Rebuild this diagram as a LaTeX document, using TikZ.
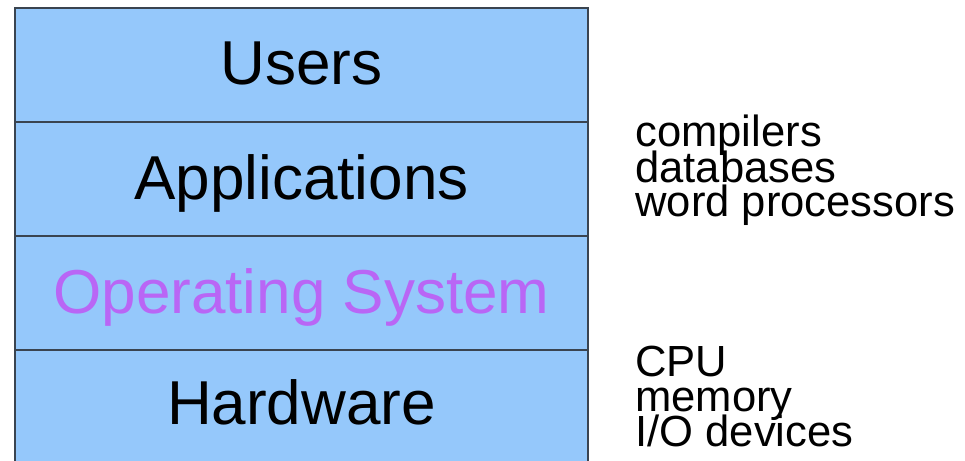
\documentclass[tikz,border=0pt]{standalone}
\usepackage{fontspec}
\setmainfont{Liberation Sans}
\definecolor{layerblue}{HTML}{95C8FB}
\definecolor{ospurple}{HTML}{B966F5}
\definecolor{layerline}{HTML}{3A4450}
\begin{document}
\begin{tikzpicture}
[layer/.style={font=\fontsize{35.3}{40}\selectfont, anchor=base},
 side/.style={font=\fontsize{24.8}{28}\selectfont, anchor=base west, inner sep=0pt}]

\clip (0,0) rectangle (19.3,9.2);
\fill[layerblue] (0.30,-0.08) rectangle (11.76,9.04);
\draw[layerline, line width=1.4pt] (0.30,-0.08) rectangle (11.76,9.04);
\draw[layerline, line width=1.4pt] (0.30,6.76) -- (11.76,6.76);
\draw[layerline, line width=1.4pt] (0.30,4.48) -- (11.76,4.48);
\draw[layerline, line width=1.4pt] (0.30,2.20) -- (11.76,2.20);
%________________________________________________%
\node[layer] (users) at (6.03,7.50) {Users};
\node[layer] (apps) at (6.03,5.22) {Applications};
\node[layer, text=ospurple] (os) at (6.03,2.94) {Operating System};
\node[layer] (hw) at (6.03,0.72) {Hardware};
%________________________________________________%
\node[side] (comp) at (12.70,6.26) {compilers};
\node[side] (db) at (12.70,5.56) {databases};
\node[side] (wp) at (12.70,4.86) {word processors};
%________________________________________________%
\node[side] (cpu) at (12.70,1.68) {CPU};
\node[side] (mem) at (12.70,0.98) {memory};
\node[side] (io) at (12.70,0.28) {I/O devices};
%________________________________________________%
\end{tikzpicture}
\end{document}
